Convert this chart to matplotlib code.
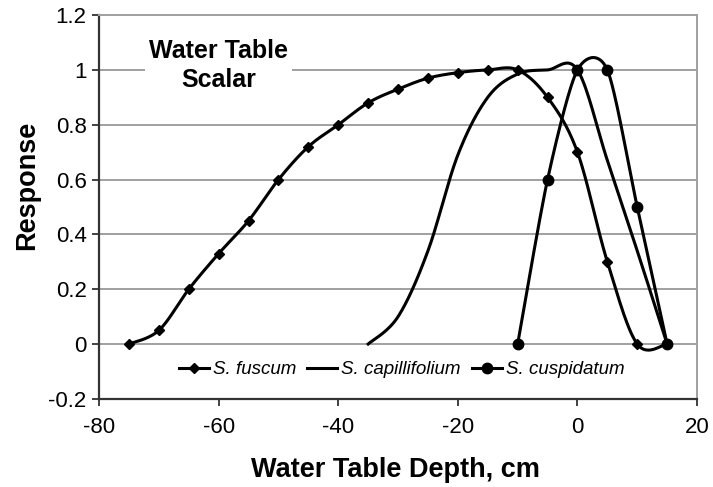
import numpy as np
import matplotlib
matplotlib.use('Agg')
import matplotlib.pyplot as plt

# Values
fuscum_x = [-75, -70, -65, -60, -55, -50, -45, -40, -35, -30, -25, -20, -15, -10, -5, 0, 5, 10, 15]
fuscum_y = [0.00, 0.05, 0.20, 0.33, 0.45, 0.60, 0.72, 0.80, 0.88, 0.93, 0.97, 0.99, 1.00, 1.00, 0.90, 0.70, 0.30, 0.00, 0.00]

capill_x = [-35, -30, -25, -20, -15, -10, -5, 0, 5, 10, 15]
capill_y = [0.00, 0.10, 0.34, 0.69, 0.90, 0.985, 1.00, 1.00, 0.67, 0.34, 0.00]

cuspid_x = [-10, -5, 0, 5, 10, 15]
cuspid_y = [0.00, 0.60, 1.00, 1.00, 0.50, 0.00]

labels = ['S. fuscum', 'S. capillifolium', 'S. cuspidatum']


def smooth(xs, ys, n=30, k=6.0):
    # Excel-style smoothed line (Bezier through the points)
    p = np.column_stack([xs, ys]).astype(float)
    p_ext = np.vstack([p[0], p, p[-1]])
    out = []
    t = np.linspace(0, 1, n)[:, None]
    for i in range(len(p) - 1):
        p0, p3 = p_ext[i + 1], p_ext[i + 2]
        c1 = p0 + (p_ext[i + 2] - p_ext[i]) / k
        c2 = p3 - (p_ext[i + 3] - p_ext[i + 1]) / k
        seg = ((1 - t) ** 3) * p0 + 3 * ((1 - t) ** 2) * t * c1 + 3 * (1 - t) * t ** 2 * c2 + t ** 3 * p3
        out.append(seg if i == 0 else seg[1:])
    seg = np.vstack(out)
    return seg[:, 0], seg[:, 1]


plt.rcParams['font.family'] = ['Liberation Sans', 'DejaVu Sans']

fig = plt.figure(figsize=(7.13, 4.87), dpi=100)
ax = fig.add_axes([0.139, 0.181, 0.8386, 0.788])

lw = 2.2
sx, sy = smooth(fuscum_x, fuscum_y)
ax.plot(sx, sy, color='black', lw=lw, zorder=3)
ax.plot(fuscum_x, fuscum_y, ls='none', marker='D', ms=5.5, color='black', zorder=4)

sx, sy = smooth(capill_x, capill_y)
ax.plot(sx, sy, color='black', lw=lw, zorder=3)

sx, sy = smooth(cuspid_x, cuspid_y, k=7.5)
ax.plot(sx, sy, color='black', lw=lw, zorder=3)
ax.plot(cuspid_x, cuspid_y, ls='none', marker='o', ms=7.5, color='black', zorder=4)

# legend proxies
h1, = ax.plot([], [], color='black', lw=lw, marker='D', ms=5.5)
h2, = ax.plot([], [], color='black', lw=lw)
h3, = ax.plot([], [], color='black', lw=lw, marker='o', ms=7.5)
leg = ax.legend([h1, h2, h3], labels, loc='center', bbox_to_anchor=(0.506, 0.0755),
                ncol=3, frameon=False, handlelength=1.6, handletextpad=0.2,
                columnspacing=0.6, prop={'style': 'italic', 'size': 13.5})

ax.set_xlim(-80, 20)
ax.set_ylim(-0.2, 1.2)
ax.set_xticks(np.arange(-80, 21, 20))
ax.set_yticks(np.arange(-0.2, 1.21, 0.2))
ax.set_xticklabels(['-80', '-60', '-40', '-20', '0', '20'])
ax.set_yticklabels(['-0.2', '0', '0.2', '0.4', '0.6', '0.8', '1', '1.2'])
ax.tick_params(labelsize=16, length=5, width=1.3, color='#333333', pad=4)
ax.tick_params(axis='x', pad=8)

ax.grid(axis='y', color='#a0a0a0', lw=1.4, zorder=1)
ax.set_axisbelow(True)
for side in ['top', 'right']:
    ax.spines[side].set_color('#a0a0a0')
    ax.spines[side].set_linewidth(1.4)
for side in ['left', 'bottom']:
    ax.spines[side].set_color('#333333')
    ax.spines[side].set_linewidth(1.6)

ax.text(-60, 1.015, 'Water Table\nScalar', ha='center', va='center', fontsize=18,
        fontweight='bold', linespacing=1.25, zorder=2,
        bbox=dict(facecolor='white', edgecolor='none', pad=3))

ax.set_xlabel('Water Table Depth, cm', fontsize=19.5, fontweight='bold')
ax.set_ylabel('Response', fontsize=19.5, fontweight='bold')
ax.xaxis.set_label_coords(0.495, -0.185)
ax.yaxis.set_label_coords(-0.12, 0.557)
ax.xaxis.label.set_va('center')
ax.yaxis.label.set_va('center')

fig.savefig('out.png', dpi=100)
